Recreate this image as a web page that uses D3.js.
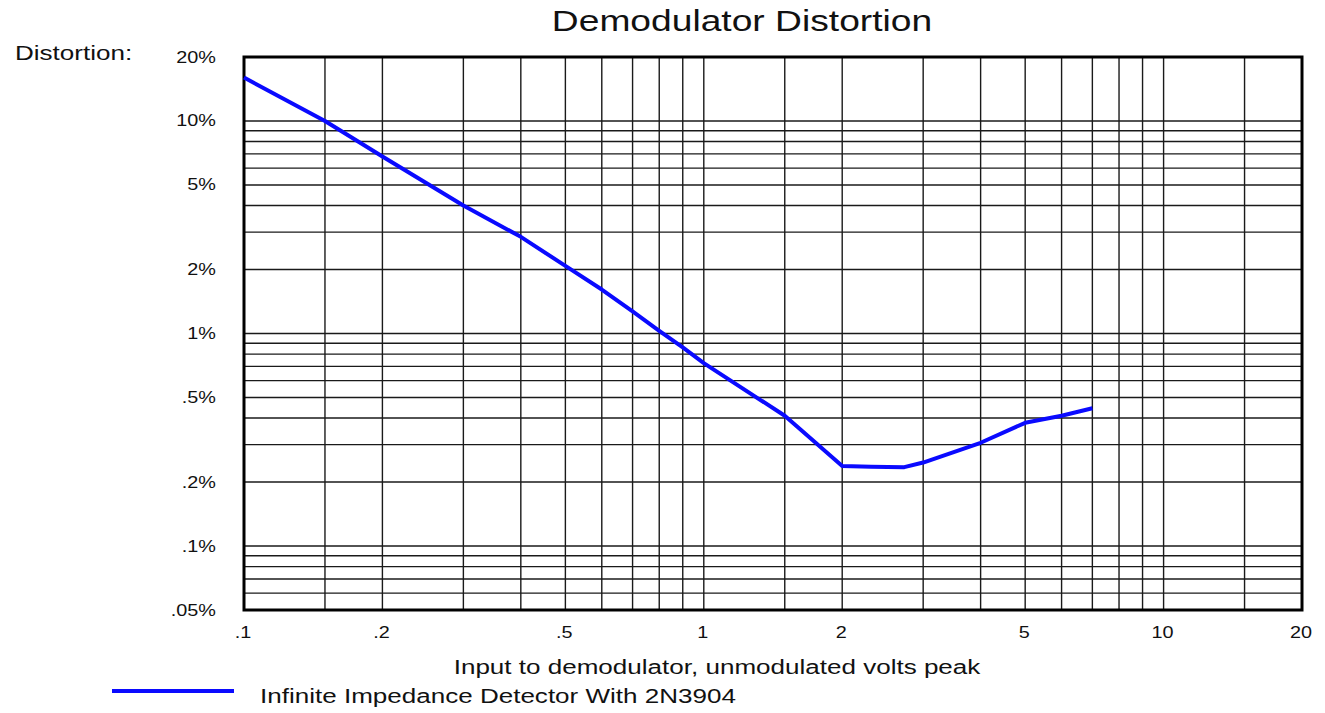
<!DOCTYPE html>
<html>
<head>
<meta charset="utf-8">
<script src="https://cdn.jsdelivr.net/npm/d3@7"></script>
<style>
    body { margin: 0; background: #fff; }
    text { font-family: "Liberation Sans", Arial, sans-serif; fill: #111; }
</style>
</head>
<body>
<div id="chart"></div>
<script>
// Data (volts peak, distortion %)
var volts = [0.1, 0.15, 0.2, 0.3, 0.4, 0.5, 0.6, 0.7, 0.8, 0.9, 1.0, 1.5, 2.0, 2.31, 2.73, 3, 4, 5, 6, 7];
var distortion = [16, 10, 6.8, 4.0, 2.85, 2.08, 1.61, 1.27, 1.03, 0.86, 0.726, 0.41, 0.238, 0.236, 0.235, 0.247, 0.306, 0.38, 0.41, 0.445];

var xTicks = [0.1, 0.2, 0.5, 1, 2, 5, 10, 20];
var xTickLabels = [".1", ".2", ".5", "1", "2", "5", "10", "20"];
var yTicks = [20, 10, 5, 2, 1, 0.5, 0.2, 0.1, 0.05];
var yTickLabels = ["20%", "10%", "5%", "2%", "1%", ".5%", ".2%", ".1%", ".05%"];

var xGrid = [0.15, 0.2, 0.3, 0.4, 0.5, 0.6, 0.7, 0.8, 0.9, 1, 1.5, 2, 3, 4, 5, 6, 7, 8, 9, 10, 15];
var yGrid = [0.06, 0.07, 0.08, 0.09, 0.1, 0.2, 0.3, 0.4, 0.5, 0.6, 0.7, 0.8, 0.9,
             1, 2, 3, 4, 5, 6, 7, 8, 9, 10];

var title = "Demodulator Distortion";
var yTitle = "Distortion:";
var xTitle = "Input to demodulator, unmodulated volts peak";
var seriesName = "Infinite Impedance Detector With 2N3904";

var width = 1325, height = 713;
var plotLeft = 244, plotRight = 1302, plotTop = 57, plotBottom = 610;
var stretch = 1.24; // text in the reference is drawn wide

var svg = d3.select("#chart").append("svg")
    .attr("width", width)
    .attr("height", height);

var x = d3.scaleLog().domain([0.1, 20]).range([plotLeft, plotRight]);
var y = d3.scaleLog().domain([0.05, 20]).range([plotBottom, plotTop]);

// Put a stretched text at px, py (baseline)
function Label(px, py, txt, size, anchor) {
    return svg.append("text")
        .attr("transform", "translate(" + px + "," + py + ") scale(" + stretch + ",1)")
        .attr("text-anchor", anchor)
        .style("font-size", size + "px")
        .text(txt);
}

// Grid
svg.append("g")
    .selectAll("line")
    .data(xGrid)
    .enter()
    .append("line")
    .attr("x1", function (d) { return x(d); })
    .attr("x2", function (d) { return x(d); })
    .attr("y1", plotTop)
    .attr("y2", plotBottom)
    .attr("stroke", "#1a1a1a")
    .attr("stroke-width", 1.4);

svg.append("g")
    .selectAll("line")
    .data(yGrid)
    .enter()
    .append("line")
    .attr("x1", plotLeft)
    .attr("x2", plotRight)
    .attr("y1", function (d) { return y(d); })
    .attr("y2", function (d) { return y(d); })
    .attr("stroke", "#1a1a1a")
    .attr("stroke-width", 1.4);

// Frame
svg.append("rect")
    .attr("x", plotLeft)
    .attr("y", plotTop)
    .attr("width", plotRight - plotLeft)
    .attr("height", plotBottom - plotTop)
    .attr("fill", "none")
    .attr("stroke", "#000")
    .attr("stroke-width", 3);

// Curve
var points = volts.map(function (v, i) { return [v, distortion[i]]; });
var line = d3.line()
    .x(function (d) { return x(d[0]); })
    .y(function (d) { return y(d[1]); });

svg.append("path")
    .datum(points)
    .attr("d", line)
    .attr("fill", "none")
    .attr("stroke", "#0a0aff")
    .attr("stroke-width", 4)
    .attr("stroke-linejoin", "round");

// Tick labels
yTicks.forEach(function (d, i) {
    Label(216, y(d) + 5.5, yTickLabels[i], 16, "end");
});
xTicks.forEach(function (d, i) {
    Label(x(d) - 1, 638, xTickLabels[i], 16, "middle");
});

// Titles and legend
Label(742, 31, title, 30, "middle");
Label(15, 60, yTitle, 21, "start");
Label(717, 674, xTitle, 21, "middle");

svg.append("line")
    .attr("x1", 112)
    .attr("x2", 234)
    .attr("y1", 691)
    .attr("y2", 691)
    .attr("stroke", "#0a0aff")
    .attr("stroke-width", 4);
Label(260, 703, seriesName, 21, "start");
</script>
</body>
</html>
